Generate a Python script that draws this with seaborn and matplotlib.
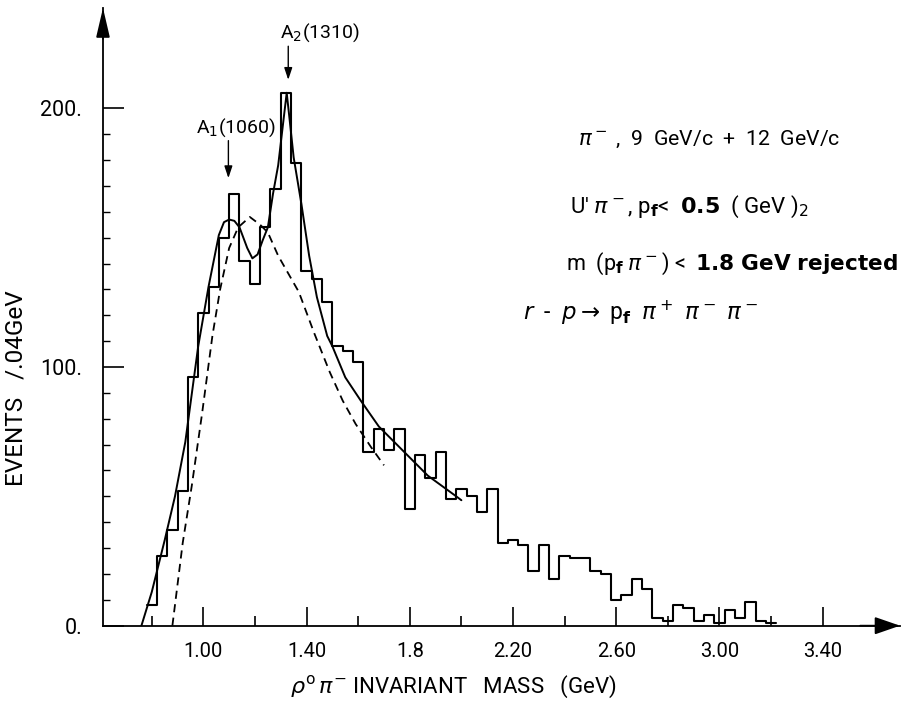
import numpy as np
import pandas as pd
import matplotlib
matplotlib.use("Agg")
import matplotlib.pyplot as plt
import seaborn as sns

# histogram: events per 0.04 GeV bin, first bin starts at 0.78 GeV
bin_lo = 0.78
bin_width = 0.04
counts = [8, 27, 37, 52, 96, 121, 131, 150, 167, 141,
          132, 154, 169, 206, 179, 137, 134, 125, 108, 106,
          102, 67, 76, 68, 76, 45, 66, 57, 67, 49,
          53, 50, 44, 53, 32, 33, 31, 21, 31, 18,
          27, 26, 26, 21, 20, 10, 12, 18, 14, 3,
          2, 8, 7, 2, 4, 1, 6, 3, 9, 2, 1]

# fitted curve (solid) and background (dashed)
fit_mass = [0.76, 0.80, 0.85, 0.89, 0.93, 0.98, 1.02, 1.06, 1.08, 1.10,
            1.12, 1.14, 1.17, 1.19, 1.21, 1.23, 1.25, 1.27, 1.29, 1.31,
            1.323, 1.335, 1.35, 1.38, 1.41, 1.44, 1.48, 1.50, 1.55, 1.61,
            1.68, 1.77, 1.87, 1.98, 2.00]
fit_events = [0, 13, 33, 50, 71, 108, 131, 151, 156, 157,
              156.5, 154, 146, 142, 143.5, 149, 154, 167, 178, 195,
              206, 195, 181, 163, 143, 127, 112, 108, 96, 87,
              77, 68, 58, 50, 48.5]

bg_mass = [0.88, 0.92, 0.955, 0.995, 1.035, 1.065, 1.10, 1.135, 1.18, 1.22,
           1.25, 1.29, 1.33, 1.37, 1.43, 1.49, 1.54, 1.59, 1.65, 1.70]
bg_events = [0, 32, 54, 82, 112, 130, 146, 154, 158, 155,
             152, 143, 136, 129, 113, 98, 87, 78, 69, 62]

major_x = [1.00, 1.40, 1.80, 2.20, 2.60, 3.00, 3.40]
major_x_labels = ["1.00", "1.40", "1.8", "2.20", "2.60", "3.00", "3.40"]
minor_x = [0.80, 1.20, 1.60, 2.00, 2.40, 2.80, 3.20]
major_y = [0, 100, 200]
major_y_labels = ["0.", "100.", "200."]
minor_y = [v for v in range(10, 200, 10) if v != 100]

sns.set_style("ticks")
plt.rcParams["font.family"] = ["Roboto", "DejaVu Sans"]
plt.rcParams["text.color"] = "black"
plt.rcParams["axes.labelcolor"] = "black"
plt.rcParams["xtick.color"] = "black"
plt.rcParams["ytick.color"] = "black"

edges = [round(bin_lo + bin_width * i, 2) for i in range(len(counts) + 1)]
hist = pd.DataFrame({"mass": [e + bin_width / 2 for e in edges[:-1]],
                     "events": counts})

fig = plt.figure(figsize=(9.05, 7.02), dpi=100)
ax = fig.add_axes([0.1138, 0.1087, 0.8807, 0.88])

sns.histplot(data=hist, x="mass", weights="events", bins=edges, element="step",
             fill=False, color="black", linewidth=1.5, ax=ax)
sns.lineplot(x=fit_mass, y=fit_events, color="black", linewidth=1.4, ax=ax)
sns.lineplot(x=bg_mass, y=bg_events, color="black", linewidth=1.3,
             linestyle=(0, (4.5, 3)), ax=ax)

ax.set_xlim(0.611, 3.70)
ax.set_ylim(0, 238.8)

ax.spines["top"].set_visible(False)
ax.spines["right"].set_visible(False)
for s in ["left", "bottom"]:
    ax.spines[s].set_color("black")
    ax.spines[s].set_linewidth(1.3)

ax.set_xticks(major_x)
ax.set_xticklabels(major_x_labels)
ax.set_xticks(minor_x, minor=True)
ax.set_yticks(major_y)
ax.set_yticklabels(major_y_labels)
ax.set_yticks(minor_y, minor=True)
ax.tick_params(axis="x", which="major", direction="in", length=14, width=1.2,
               pad=12, labelsize=14.5)
ax.tick_params(axis="x", which="minor", direction="in", length=7, width=1.2)
ax.tick_params(axis="y", which="major", direction="in", length=15, width=1.2,
               pad=15, labelsize=15.5)
ax.tick_params(axis="y", which="minor", direction="in", length=5, width=1.0)

ax.set_xlabel(r"$\rho^{\mathrm{o}}\,\pi^{-}$ INVARIANT   MASS   (GeV)", fontsize=16)
ax.xaxis.set_label_coords(0.44, -0.078)
ax.set_ylabel("EVENTS   /.04GeV", fontsize=17.5)
ax.yaxis.set_label_coords(-0.095, 0.385)

# axis arrowheads
ax.annotate("", xy=(1.0, 0), xycoords="axes fraction", xytext=(0.95, 0),
            arrowprops=dict(arrowstyle="-|>,head_length=1.3,head_width=0.45",
                            mutation_scale=12, color="black", lw=1.3,
                            shrinkA=0, shrinkB=0), annotation_clip=False)
ax.annotate("", xy=(0, 1.0), xycoords="axes fraction", xytext=(0, 0.95),
            arrowprops=dict(arrowstyle="-|>,head_length=1.5,head_width=0.35",
                            mutation_scale=12, color="black", lw=1.3,
                            shrinkA=0, shrinkB=0), annotation_clip=False)

# resonance markers
ax.text(1.127, 192.4, r"A$_1$(1060)", ha="center", va="center", fontsize=14)
ax.annotate("", xy=(1.097, 173), xytext=(1.097, 187.5),
            arrowprops=dict(arrowstyle="-|>,head_length=0.6,head_width=0.2",
                            mutation_scale=12, color="black", lw=1.0,
                            shrinkA=0, shrinkB=0))
ax.text(1.452, 229.3, r"A$_2$(1310)", ha="center", va="center", fontsize=14)
ax.annotate("", xy=(1.329, 211), xytext=(1.329, 224),
            arrowprops=dict(arrowstyle="-|>,head_length=0.6,head_width=0.2",
                            mutation_scale=12, color="black", lw=1.0,
                            shrinkA=0, shrinkB=0))

# reaction description
ax.text(2.452, 188, r"$\pi^-$ ,  9  GeV/c  +  12  GeV/c", ha="left", va="center",
        fontsize=15.3)
ax.text(2.421, 162, r"U' $\pi^-$, p$_\mathbf{f}$<  $\mathbf{0.5}$  ( GeV )$_2$",
        ha="left", va="center", fontsize=16)
ax.text(2.405, 140, r"m  (p$_\mathbf{f}$ $\pi^-$) <  $\mathbf{1.8\ GeV\ rejected}$",
        ha="left", va="center", fontsize=15.6)
ax.text(2.239, 121, r"$r$  -  $p$$\rightarrow$ p$_\mathbf{f}$  $\pi^+\ \pi^-\ \pi^-$",
        ha="left", va="center", fontsize=16.5)

fig.savefig("out.png", dpi=100, facecolor="white")
